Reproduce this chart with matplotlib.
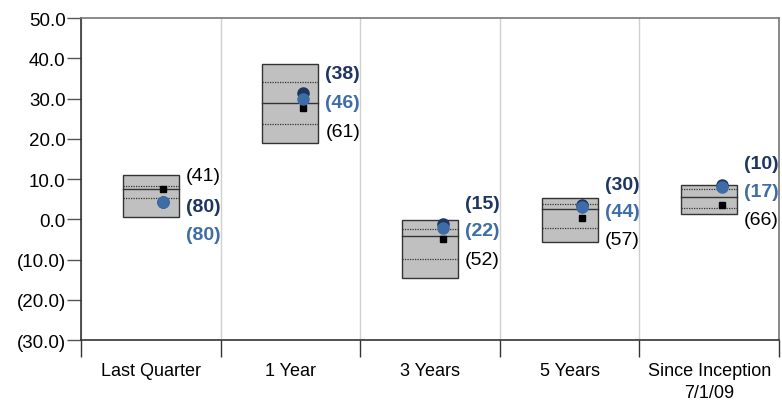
import matplotlib
matplotlib.use("Agg")
import matplotlib.pyplot as plt
from matplotlib.ticker import FuncFormatter, FixedLocator
import numpy as np

plt.rcParams['font.family'] = ['Liberation Sans', 'DejaVu Sans']

CATEGORIES = ["Last Quarter", "1 Year", "3 Years", "5 Years", "Since Inception\n7/1/09"]

# percentile box: 5th, 25th, median, 75th, 95th
P05 = [11.0, 38.5, -0.3, 5.2, 8.5]
P25 = [8.2, 34.0, -2.3, 3.9, 7.45]
P50 = [7.4, 29.0, -4.1, 2.5, 5.6]
P75 = [5.4, 23.6, -9.8, -2.1, 2.7]
P95 = [0.6, 19.0, -14.7, -5.6, 1.2]

# markers
FUND_A = [4.4, 31.3, -1.3, 3.5, 8.5]     # dark navy circle
FUND_B = [4.4, 30.0, -2.2, 3.0, 7.9]     # blue circle
BENCH = [7.6, 27.7, -4.8, 0.2, 3.6]      # black square

# ranks and where the rank labels sit
RANK_A = ["(80)", "(38)", "(15)", "(30)", "(10)"]
RANK_B = ["(80)", "(46)", "(22)", "(44)", "(17)"]
RANK_BENCH = ["(41)", "(61)", "(52)", "(57)", "(66)"]
LABEL_Y_A = [3.2, 36.3, 4.0, 8.7, 13.9]
LABEL_Y_B = [-3.7, 29.0, -2.9, 1.9, 7.0]
LABEL_Y_BENCH = [10.9, 21.9, -9.9, -5.0, 0.0]

NAVY = '#1d3560'
BLUE = '#3d6ca6'


def paren_fmt(v, pos):
	if v < 0:
		return "(%.1f)" % abs(v)
	return "%.1f" % v


fig = plt.figure(figsize=(7.82, 4.02), dpi=100)
ax = fig.add_axes([0.1036, 0.1517, 0.8926, 0.801])

x = np.arange(len(CATEGORIES))
w = 0.4

for i in x:
	top = P05[i]
	bot = P95[i]
	ax.add_patch(plt.Rectangle((i - w / 2, bot), w, top - bot, facecolor='#c0c0c0',
		edgecolor='#333333', linewidth=1.0, zorder=3))
	ax.plot([i - w / 2, i + w / 2], [P25[i], P25[i]], color='#333333', lw=0.9, ls=(0, (1, 1)), zorder=4)
	ax.plot([i - w / 2, i + w / 2], [P50[i], P50[i]], color='#333333', lw=1.0, zorder=4)
	ax.plot([i - w / 2, i + w / 2], [P75[i], P75[i]], color='#333333', lw=0.9, ls=(0, (1, 1)), zorder=4)

ax.plot(x + 0.09, BENCH, 's', color='black', markersize=4.5, zorder=5, ls='none')
ax.plot(x + 0.09, FUND_A, 'o', color=NAVY, markersize=8, zorder=6, ls='none')
ax.plot(x + 0.09, FUND_B, 'o', color=BLUE, markersize=8, zorder=7, ls='none')

for i in x:
	ax.text(i + 0.25, LABEL_Y_A[i], RANK_A[i], color=NAVY, fontsize=14, fontweight='bold', va='center', ha='left')
	ax.text(i + 0.25, LABEL_Y_B[i], RANK_B[i], color=BLUE, fontsize=14, fontweight='bold', va='center', ha='left')
	ax.text(i + 0.25, LABEL_Y_BENCH[i], RANK_BENCH[i], color='black', fontsize=14, va='center', ha='left')

ax.set_xlim(-0.5, len(CATEGORIES) - 0.5)
ax.set_ylim(-30, 50)
ax.set_yticks(np.arange(-30, 51, 10))
ax.yaxis.set_major_formatter(FuncFormatter(paren_fmt))

# dividers as major ticks, names at the centres
ax.xaxis.set_major_locator(FixedLocator(np.arange(-0.5, len(CATEGORIES), 1.0)))
ax.xaxis.set_minor_locator(FixedLocator(x))
ax.set_xticklabels([])
ax.set_xticklabels(CATEGORIES, minor=True)
for lbl in ax.get_xticklabels(minor=True):
	lbl.set_linespacing(1.4)
ax.tick_params(axis='x', which='major', length=12, width=1, color='#333333')
ax.tick_params(axis='x', which='minor', length=0, pad=16, labelsize=13)
ax.tick_params(axis='y', length=10, width=1, color='#555555', labelsize=13.5, pad=1)
ax.xaxis.grid(True, which='major', color='#d0d0d0', lw=1)
ax.set_axisbelow(True)

ax.spines['left'].set_color('#333333')
ax.spines['bottom'].set_color('#333333')
ax.spines['top'].set_color('#777777')
ax.spines['right'].set_color('#777777')
for s in ax.spines.values():
	s.set_linewidth(1.2)

fig.savefig("out.png", dpi=100)
